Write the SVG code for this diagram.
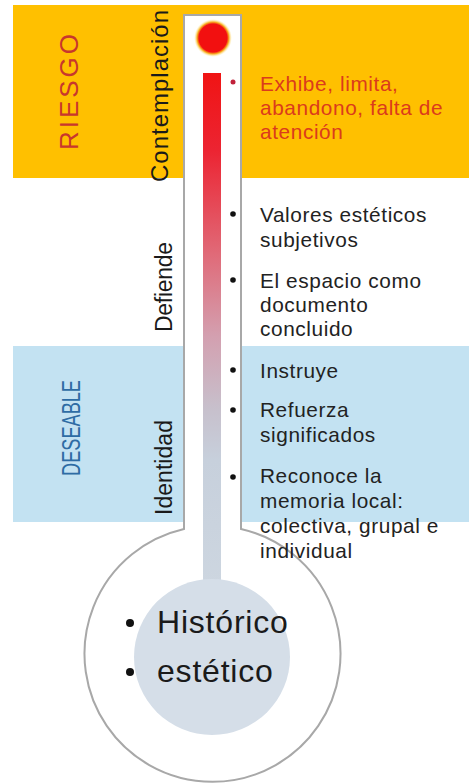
<svg xmlns="http://www.w3.org/2000/svg" width="469" height="783" viewBox="0 0 469 783">
<defs>
<style>
.lbl{font-family:"Liberation Sans",Arial,sans-serif;fill:#1a1a1a}
.item{font-family:"Liberation Sans",Arial,sans-serif;font-size:20.8px;letter-spacing:0.6px;fill:#222}
.risk{fill:#db3b1c}
.bul{fill:#111}
.big{font-family:"Liberation Sans",Arial,sans-serif;font-size:32px;letter-spacing:0.8px;fill:#1a1a1a}
</style>
<linearGradient id="bar" x1="0" y1="73" x2="0" y2="590" gradientUnits="userSpaceOnUse">
<stop offset="0" stop-color="#f01414"/>
<stop offset="0.15" stop-color="#ec2432"/>
<stop offset="0.35" stop-color="#e06a78"/>
<stop offset="0.51" stop-color="#d3a0b0"/>
<stop offset="0.65" stop-color="#c7c0cc"/>
<stop offset="0.75" stop-color="#c7d0dc"/>
<stop offset="1" stop-color="#cdd6e0"/>
</linearGradient>
<radialGradient id="glow" cx="213" cy="38" r="19" gradientUnits="userSpaceOnUse">
<stop offset="0" stop-color="#f21010"/>
<stop offset="0.74" stop-color="#f21010"/>
<stop offset="0.84" stop-color="#f8b020"/>
<stop offset="1" stop-color="#fff3b0" stop-opacity="0"/>
</radialGradient>
</defs>
<rect width="469" height="783" fill="#ffffff"/>
<g id="bands">
<rect id="band-riesgo" x="13" y="5" width="456" height="173" fill="#ffc000"/>
<rect id="band-deseable" x="13" y="346" width="456" height="176" fill="#c3e2f2"/>
</g>
<g id="thermometer">
<path d="M184,15 H241 V529 A128,128 0 1 1 184,529 Z" fill="#ffffff" stroke="#a8a8a8" stroke-width="2"/>
<circle cx="213" cy="38" r="19" fill="url(#glow)"/>
<rect x="203" y="73" width="18" height="520" fill="url(#bar)"/>
<circle cx="212" cy="657" r="78" fill="#d5dee8"/>
</g>
<g id="labels">
<text class="lbl" transform="translate(78,150) rotate(-90)" font-size="26" letter-spacing="4" style="fill:#c8372d" textLength="120">RIESGO</text>
<text class="lbl" transform="translate(168,182) rotate(-90)" font-size="24" textLength="172">Contemplación</text>
<text class="lbl" transform="translate(172,332) rotate(-90)" font-size="23" textLength="90">Defiende</text>
<text class="lbl" transform="translate(80,476) rotate(-90)" font-size="26" style="fill:#2e6ca4" textLength="96" lengthAdjust="spacingAndGlyphs">DESEABLE</text>
<text class="lbl" transform="translate(172,515) rotate(-90)" font-size="23" textLength="95">Identidad</text>
</g>
<g id="risk-items">
<circle cx="233" cy="82" r="2.5" fill="#c0203a"/>
<text class="item risk" x="260" y="91">Exhibe, limita,<tspan x="260" dy="23.5">abandono, falta de</tspan><tspan x="260" dy="24">atención</tspan></text>
</g>
<g id="defiende-items">
<circle class="bul" cx="233" cy="214" r="2.8"/>
<text class="item" x="260" y="222">Valores estéticos<tspan x="260" dy="25">subjetivos</tspan></text>
<circle class="bul" cx="233" cy="280" r="2.8"/>
<text class="item" x="260" y="288">El espacio como<tspan x="260" dy="24">documento</tspan><tspan x="260" dy="24">concluido</tspan></text>
</g>
<g id="identidad-items">
<circle class="bul" cx="233" cy="370" r="2.8"/>
<text class="item" x="260" y="378">Instruye</text>
<circle class="bul" cx="233" cy="410" r="2.8"/>
<text class="item" x="260" y="417">Refuerza<tspan x="260" dy="25">significados</tspan></text>
<circle class="bul" cx="233" cy="477" r="2.8"/>
<text class="item" x="260" y="483">Reconoce la<tspan x="260" dy="25">memoria local:</tspan><tspan x="260" dy="25">colectiva, grupal e</tspan><tspan x="260" dy="25">individual</tspan></text>
</g>
<g id="bulb-items">
<circle class="bul" cx="130" cy="623" r="4"/>
<text class="big" x="157" y="633">Histórico<tspan x="157" dy="49">estético</tspan></text>
<circle class="bul" cx="130" cy="672" r="4"/>
</g>
</svg>
